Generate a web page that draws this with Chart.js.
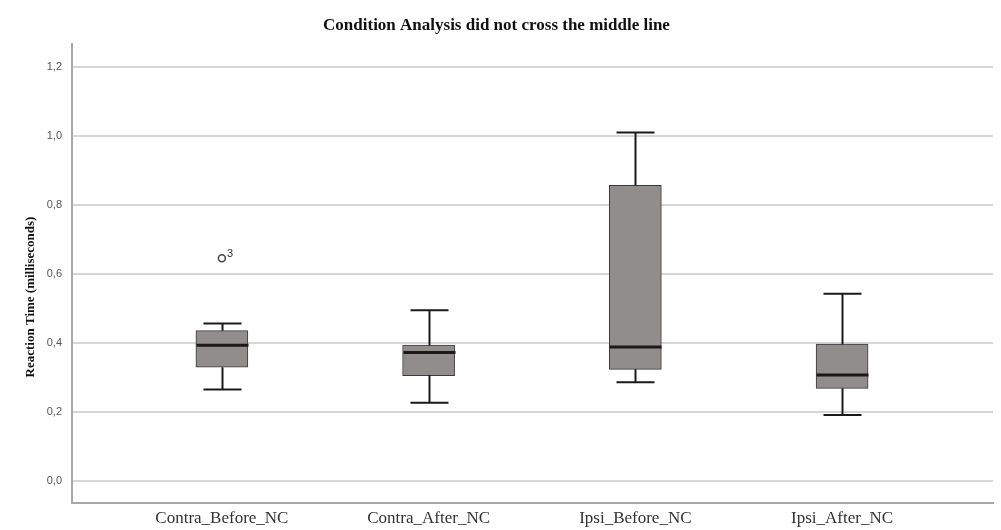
<!DOCTYPE html>
<html>
<head>
<meta charset="utf-8">
<script src="https://cdn.jsdelivr.net/npm/chart.js@4/dist/chart.umd.min.js"></script>
<style>
  html, body { margin: 0; padding: 0; background: #fff; }
  #wrap { width: 1001px; height: 530px; }
</style>
</head>
<body>
<div id="wrap"><canvas id="myChart"></canvas></div>
<script>
// categories and box statistics
var categories = ["Contra_Before_NC", "Contra_After_NC", "Ipsi_Before_NC", "Ipsi_After_NC"];
var whiskerLow = [0.265, 0.226, 0.286, 0.191];
var q1 = [0.329, 0.305, 0.323, 0.268];
var median = [0.393, 0.372, 0.388, 0.307];
var q3 = [0.435, 0.393, 0.856, 0.396];
var whiskerHigh = [0.456, 0.494, 1.009, 0.542];
// outliers: category index, value, case label
var outlierIdx = [0];
var outlierVal = [0.645];
var outlierCase = ["3"];
var yTicks = [0, 0.2, 0.4, 0.6, 0.8, 1.0, 1.2];

var boxPlugin = {
  id: "boxParts",
  afterDatasetsDraw: function(chart) {
    var ctx = chart.ctx;
    var x = chart.scales.x, y = chart.scales.y;
    var half = 26, cap = 19;
    ctx.save();
    ctx.strokeStyle = "#1a1a1a";
    ctx.lineWidth = 2;
    for (var i = 0; i < categories.length; i++) {
      var cx = Math.round(x.getPixelForValue(i)) + 0.5;
      var yLo = y.getPixelForValue(whiskerLow[i]);
      var yQ1 = y.getPixelForValue(q1[i]);
      var yQ3 = y.getPixelForValue(q3[i]);
      var yHi = y.getPixelForValue(whiskerHigh[i]);
      ctx.beginPath();
      ctx.moveTo(cx, yHi); ctx.lineTo(cx, yQ3);
      ctx.moveTo(cx, yQ1); ctx.lineTo(cx, yLo);
      ctx.moveTo(cx - cap, yHi); ctx.lineTo(cx + cap, yHi);
      ctx.moveTo(cx - cap, yLo); ctx.lineTo(cx + cap, yLo);
      ctx.stroke();
      // median
      var yMed = y.getPixelForValue(median[i]);
      ctx.lineWidth = 3;
      ctx.beginPath();
      ctx.moveTo(cx - half, yMed); ctx.lineTo(cx + half, yMed);
      ctx.stroke();
      ctx.lineWidth = 2;
    }
    // outlier case labels
    ctx.fillStyle = "#333";
    ctx.font = "11px 'Liberation Sans', Arial, sans-serif";
    ctx.textBaseline = "bottom";
    for (var k = 0; k < outlierIdx.length; k++) {
      var px = x.getPixelForValue(outlierIdx[k]);
      var py = y.getPixelForValue(outlierVal[k]);
      ctx.fillText(outlierCase[k], px + 5, py + 1);
    }
    // y axis title
    ctx.fillStyle = "#111";
    ctx.font = "bold 13px 'Liberation Serif', 'Times New Roman', serif";
    ctx.textAlign = "center";
    ctx.textBaseline = "middle";
    ctx.translate(31, 297);
    ctx.rotate(-Math.PI / 2);
    ctx.fillText("Reaction Time (milliseconds)", 0, 0);
    ctx.restore();
  }
};

var ctx = document.getElementById("myChart").getContext("2d");
new Chart(ctx, {
  type: "bar",
  data: {
    datasets: [
      {
        type: "bar",
        label: "box",
        data: categories.map(function(c, i) { return { x: i, y: [q1[i], q3[i]] }; }),
        backgroundColor: "#918d8d",
        borderColor: "#3a3a3a",
        borderWidth: 1,
        borderSkipped: false,
        barThickness: 52,
        order: 2
      },
      {
        type: "scatter",
        label: "outliers",
        data: outlierIdx.map(function(c, k) { return { x: c, y: outlierVal[k] }; }),
        pointStyle: "circle",
        radius: 3.5,
        borderWidth: 1.5,
        borderColor: "#444",
        backgroundColor: "#fff",
        order: 1
      }
    ]
  },
  options: {
    responsive: true,
    maintainAspectRatio: false,
    animation: false,
    layout: { padding: { left: 0, right: 8, bottom: 0 } },
    plugins: {
      legend: { display: false },
      tooltip: { enabled: false },
      title: {
        display: true,
        text: "Condition Analysis did not cross the middle line",
        color: "#111",
        font: { family: "'Liberation Serif', 'Times New Roman', serif", size: 17, weight: "bold" },
        padding: { top: 15, bottom: 9 }
      }
    },
    scales: {
      x: {
        type: "linear",
        offset: false,
        min: -0.725,
        max: 3.73,
        afterBuildTicks: function(s) {
          s.ticks = categories.map(function(c, i) { return { value: i }; });
        },
        afterFit: function(s) { s.height = 27; },
        grid: { display: false, drawTicks: false, offset: false },
        border: { display: true, color: "#a8a8a8", width: 2 },
        ticks: {
          color: "#333",
          padding: 5,
          maxRotation: 0,
          autoSkip: false,
          font: { family: "'Liberation Serif', 'Times New Roman', serif", size: 17 },
          callback: function(v) { return categories[v]; }
        }
      },
      y: {
        min: -0.064,
        max: 1.264,
        afterBuildTicks: function(s) {
          s.ticks = yTicks.map(function(v) { return { value: v }; });
        },
        afterFit: function(s) { s.width = 72; },
        grid: { color: "#d6d6d6", lineWidth: 2, drawTicks: false },
        border: { display: true, color: "#a8a8a8", width: 2 },
        ticks: {
          color: "#555",
          padding: 10,
          font: { family: "'Liberation Sans', Arial, sans-serif", size: 11 },
          callback: function(v) { return v.toFixed(1).replace(".", ","); }
        }
      }
    }
  },
  plugins: [boxPlugin]
});
</script>
</body>
</html>
